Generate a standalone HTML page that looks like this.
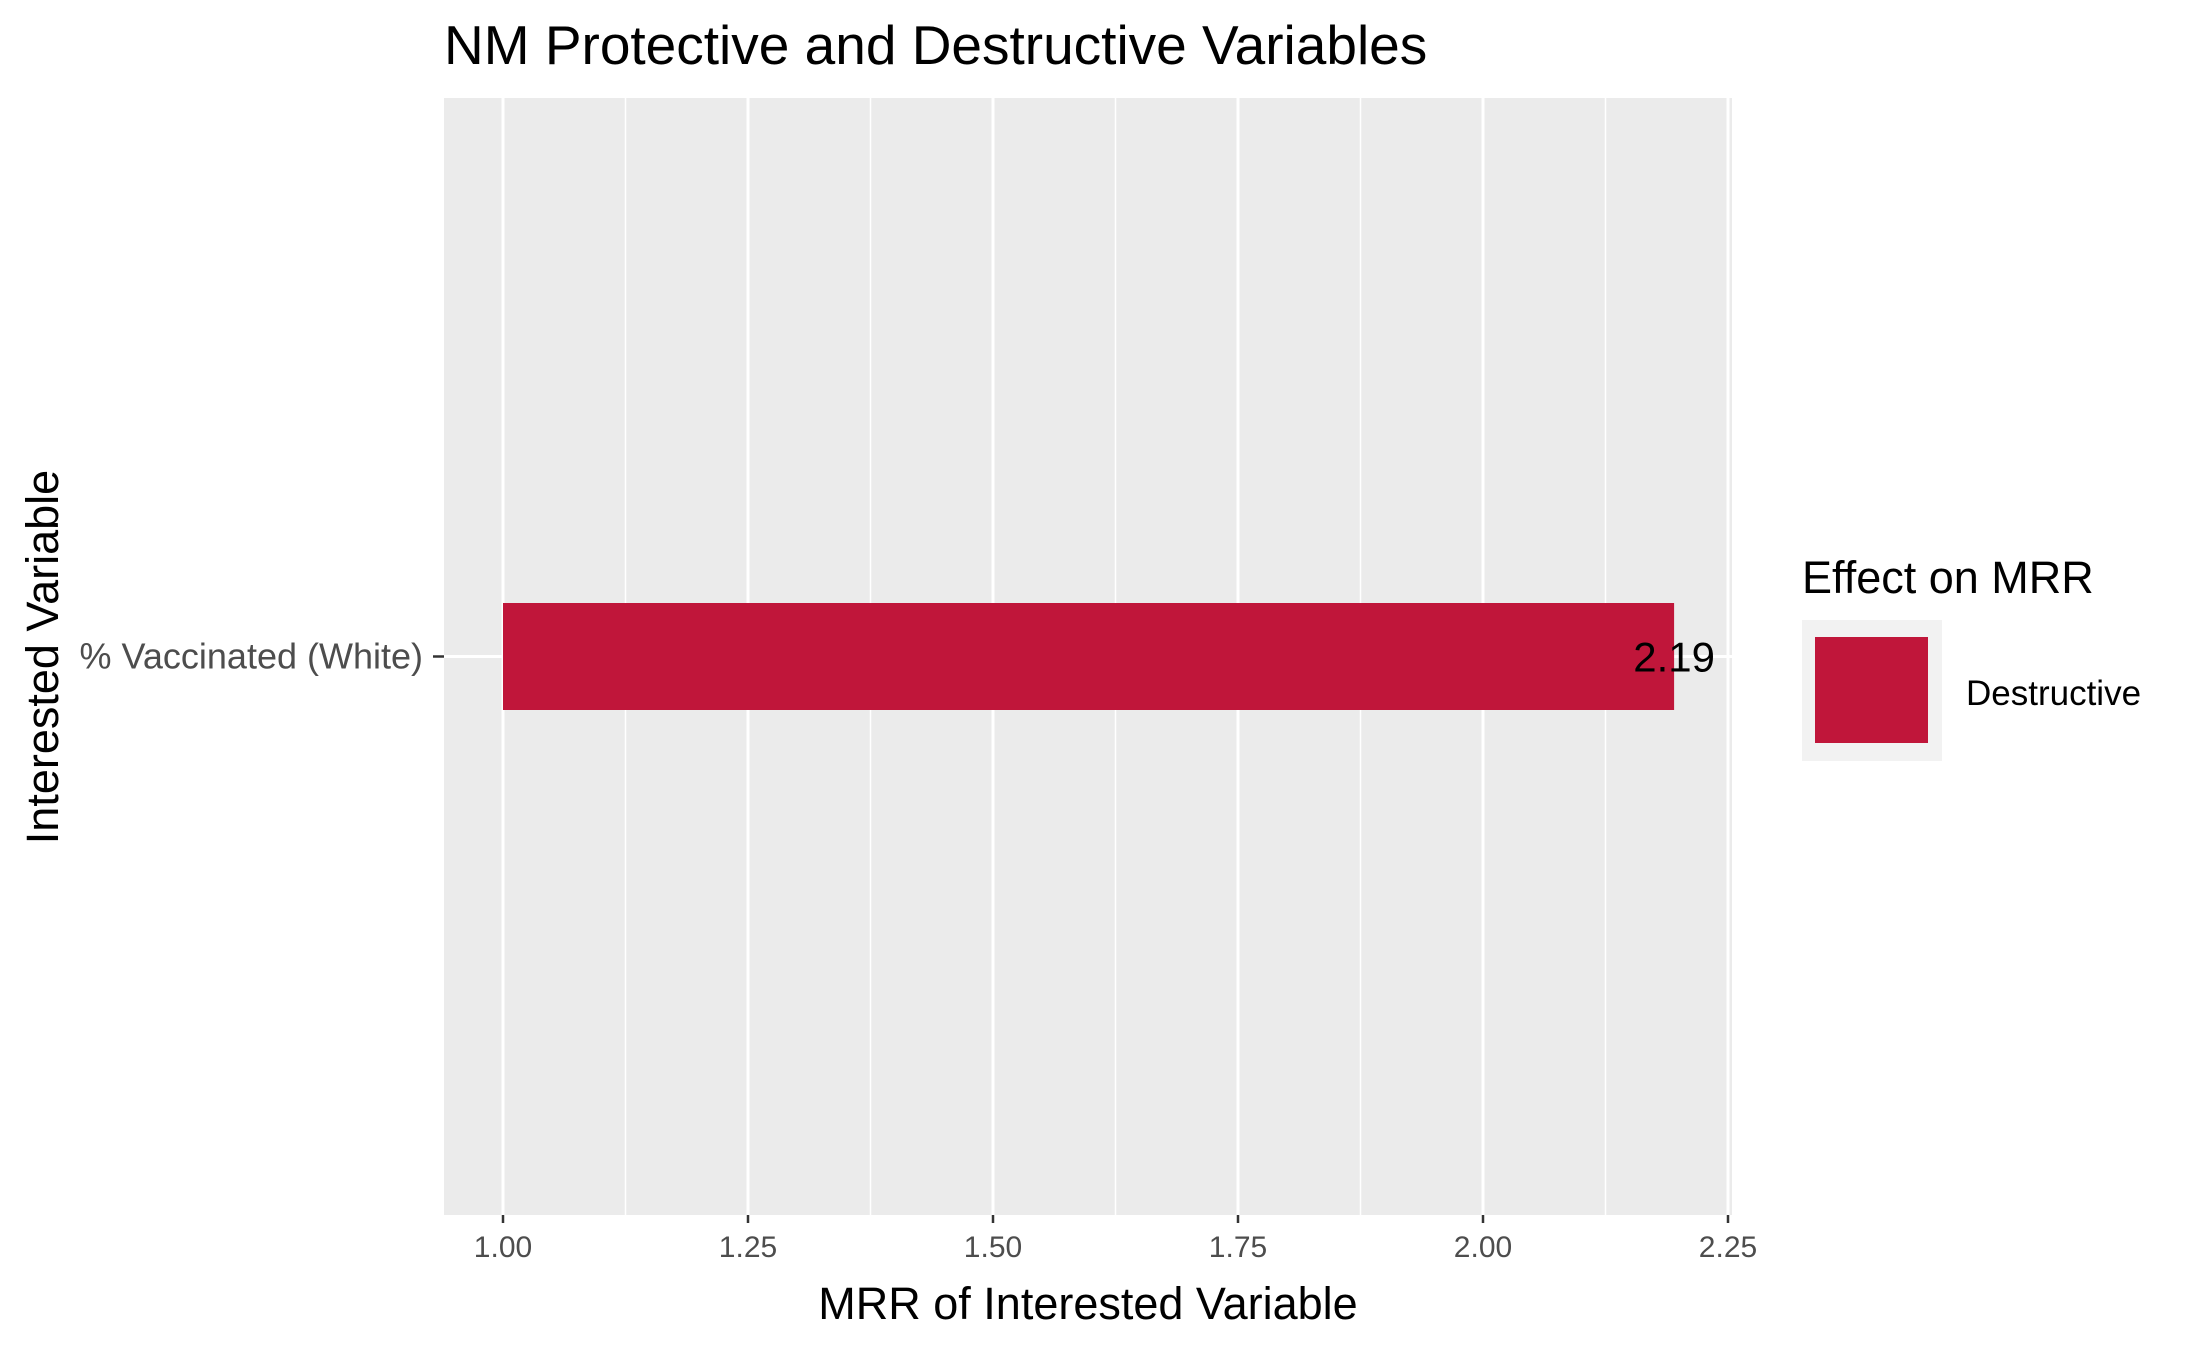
<!DOCTYPE html>
<html><head><meta charset="utf-8"><style>
body{margin:0;background:#fff}
svg{display:block;font-family:"Liberation Sans",Arial,sans-serif}
</style></head><body>
<svg id="chart" width="2187" height="1350" xmlns="http://www.w3.org/2000/svg">
<text x="444" y="64" font-size="55" fill="#000">NM Protective and Destructive Variables</text>
<rect x="444" y="98" width="1288" height="1117" fill="#ebebeb"/>
<g id="grid"></g>
<g id="bars"></g>
<g id="xticks"></g>
<g id="yticks"></g>
<text x="1088" y="1319" font-size="45" text-anchor="middle" fill="#000">MRR of Interested Variable</text>
<text transform="translate(58,657) rotate(-90)" font-size="45" text-anchor="middle" fill="#000">Interested Variable</text>
<g>
<text x="1802" y="593" font-size="45" fill="#000">Effect on MRR</text>
<rect x="1802" y="620" width="140" height="141" fill="#f2f2f2"/>
<rect x="1815" y="637" width="113" height="106" fill="#c0163a"/>
<text x="1966" y="705" font-size="35" fill="#000">Destructive</text>
</g>
</svg>
<script>
const categories = ["% Vaccinated (White)"];
const values = [2.195];
const valueLabels = ["2.19"];
const xTicks = [1.00, 1.25, 1.50, 1.75, 2.00, 2.25];
const xTickLabels = ["1.00","1.25","1.50","1.75","2.00","2.25"];
const NS="http://www.w3.org/2000/svg";
const x0=503, unit=980, base=1.0;
function xs(v){return x0+(v-base)*unit;}
const panelTop=98, panelH=1117;
function ys(i){return panelTop+panelH*(i+0.5)/categories.length;}
function mk(tag,attrs,parent){const e=document.createElementNS(NS,tag);for(const k in attrs)e.setAttribute(k,attrs[k]);document.getElementById(parent).appendChild(e);return e;}
for(let i=0;i<xTicks.length-1;i++){
  const m=(xTicks[i]+xTicks[i+1])/2;
  const l=mk('line',{x1:xs(m),x2:xs(m),y1:panelTop,y2:panelTop+panelH,stroke:'#fff','stroke-width':1.5},'grid');
  
  
}
xTicks.forEach((t,i)=>{
  const l=mk('line',{x1:xs(t),x2:xs(t),y1:panelTop,y2:panelTop+panelH,stroke:'#fff','stroke-width':3},'grid');
  
  
  const tk=mk('line',{x1:xs(t),x2:xs(t),y1:1215,y2:1223,stroke:'#333','stroke-width':2.5},'xticks');
  
  
  const tx=mk('text',{x:xs(t),y:1257,'font-size':30,'text-anchor':'middle',fill:'#4d4d4d'},'xticks');
  tx.textContent=xTickLabels[i];
  
  
});
categories.forEach((c,i)=>{
  const y=ys(i);
  const g=mk('line',{x1:444,x2:1732,y1:y,y2:y,stroke:'#fff','stroke-width':3},'grid');
  
  
  const bh=107;
  const b=mk('rect',{x:xs(base),y:y-bh/2,width:xs(values[i])-xs(base),height:bh,fill:'#c0163a'},'bars');
  
  
  const vl=mk('text',{x:xs(values[i]),y:y+15,'font-size':42,'text-anchor':'middle',fill:'#000'},'bars');
  vl.textContent=valueLabels[i];
  
  
  const tk=mk('line',{x1:433,x2:444,y1:y,y2:y,stroke:'#333','stroke-width':2.5},'yticks');
  
  
  const tl=mk('text',{x:423,y:y+12,'font-size':36,'text-anchor':'end',fill:'#4d4d4d'},'yticks');
  tl.textContent=c;
  
  
});
</script>
</body></html>
